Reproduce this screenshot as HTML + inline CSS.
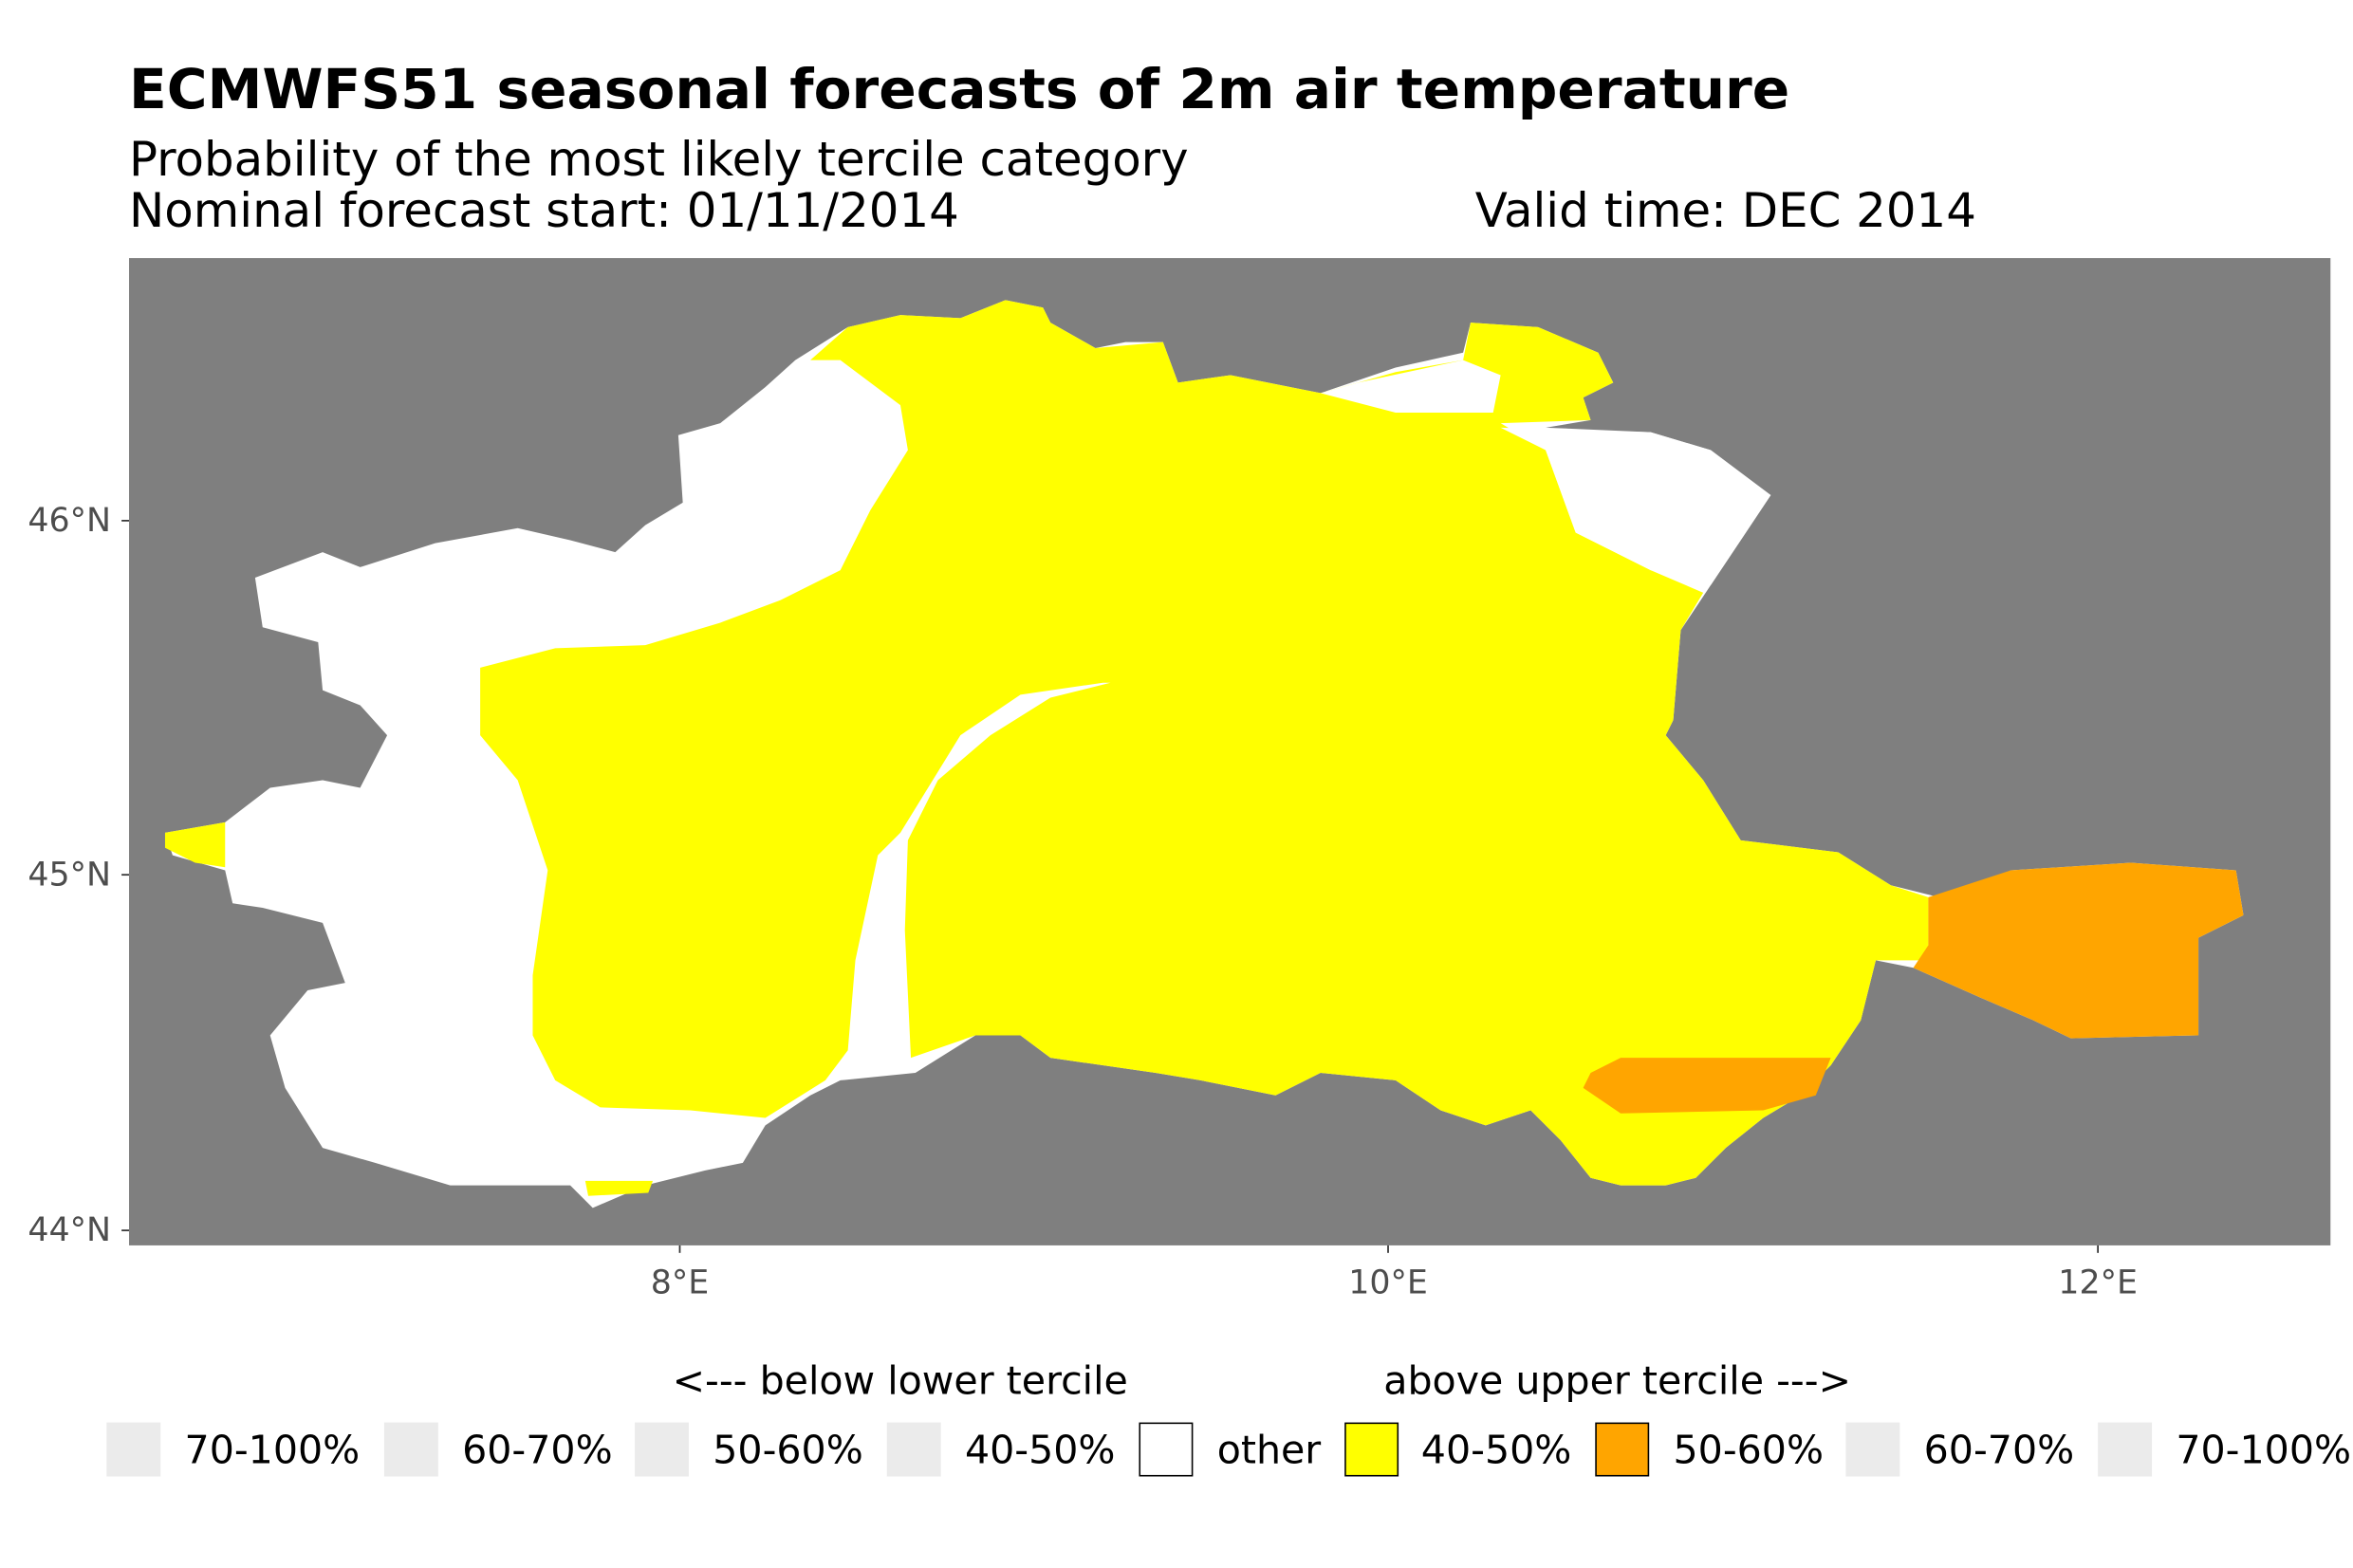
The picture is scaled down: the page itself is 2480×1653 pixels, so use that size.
<!DOCTYPE html>
<html><head><meta charset="utf-8"><style>
html,body{margin:0;padding:0;background:#fff;}
svg{display:block;}
text{font-family:"DejaVu Sans","Liberation Sans",sans-serif;}
</style></head><body>
<svg width="2480" height="1653" viewBox="0 0 1568 1045" preserveAspectRatio="none" xmlns="http://www.w3.org/2000/svg">
<rect width="1568" height="1045" fill="#fff"/>
<text x="86" y="72" font-size="36.8" font-weight="bold" fill="#000">ECMWFS51 seasonal forecasts of 2m air temperature</text>
<text x="86" y="117" font-size="31.5" fill="#000">Probability of the most likely tercile category</text>
<text x="86" y="151" font-size="31.5" fill="#000">Nominal forecast start: 01/11/2014</text>
<text x="983" y="151" font-size="31.5" fill="#000">Valid time: DEC 2014</text>
<rect x="86" y="172" width="1467" height="658" fill="#7f7f7f"/>
<polygon fill="#fff" points="110,555 150,548 180,525 215,520 240,525 258,490 240,470 215,460 212,428 175,418 170,385 215,368 240,378 290,362 345,352 380,360 410,368 430,350 455,335 452,290 480,282 510,258 530,240 565,218 600,210 640,212 670,200 695,205 700,215 730,232 750,228 775,228 785,255 820,250 860,258 880,262 930,245 975,235 980,215 1025,218 1065,235 1075,255 1055,265 1060,280 1030,285 1100,288 1140,300 1180,330 1160,360 1140,390 1120,420 1115,480 1110,490 1135,520 1160,560 1225,568 1260,590 1300,600 1340,580 1420,575 1490,580 1495,610 1465,625 1465,690 1380,692 1355,680 1320,665 1275,645 1250,640 1240,680 1220,710 1200,730 1175,745 1150,765 1130,785 1110,790 1080,790 1060,785 1040,760 1020,740 990,750 960,740 930,720 880,715 850,730 800,720 770,715 700,705 680,690 650,690 610,715 560,720 540,730 510,750 495,775 470,780 430,790 395,805 380,790 300,790 250,775 215,765 190,725 180,690 205,660 230,655 215,615 175,605 155,602 150,580 115,570"/>
<polygon fill="#ffff00" points="540,240 565,218 600,210 640,212 670,200 695,205 700,215 730,232 775,228 785,255 820,250 860,258 880,262 930,248 975,240 980,215 1025,218 1065,235 1075,255 1055,265 1060,280 1000,282 1030,300 1050,355 1100,380 1135,395 1120,420 1115,480 1110,490 1135,520 1160,560 1225,568 1260,590 1285,598 1285,640 1250,640 1240,680 1220,710 1200,730 1175,745 1150,765 1130,785 1110,790 1080,790 1060,785 1040,760 1020,740 990,750 960,740 930,720 880,715 850,730 800,720 770,715 700,705 680,690 650,690 607,705 603,620 605,560 625,520 660,490 700,465 740,455 735,455 680,463 640,490 600,555 585,570 570,640 565,700 550,720 510,745 460,740 400,738 370,720 355,690 355,650 365,580 345,520 320,490 320,445 370,432 430,430 480,415 520,400 560,380 580,340 605,300 600,270 560,240"/>
<polygon fill="#ffff00" points="110,555 150,548 150,578 130,575 110,565"/>
<polygon fill="#ffff00" points="390,787 435,787 432,795 392,797"/>
<polygon fill="#fff" points="1000,285 1100,288 1140,300 1180,330 1160,360 1140,390 1100,380 1050,355 1030,300"/>
<polygon fill="#fff" points="905,255 975,240 1000,250 995,275 930,275 880,262"/>
<polygon fill="#ffa500" points="1285,598 1340,580 1420,575 1490,580 1495,610 1465,625 1465,690 1380,692 1355,680 1320,665 1275,645 1285,630"/>
<polygon fill="#ffa500" points="1060,715 1080,705 1220,705 1210,730 1175,740 1080,742 1055,725"/>
<g stroke="#333" stroke-width="1.1">
<line x1="81" y1="347" x2="86" y2="347"/><line x1="81" y1="583" x2="86" y2="583"/><line x1="81" y1="820" x2="86" y2="820"/>
<line x1="453" y1="830" x2="453" y2="835"/><line x1="925" y1="830" x2="925" y2="835"/><line x1="1398" y1="830" x2="1398" y2="835"/>
</g>
<g font-size="22" fill="#4d4d4d">
<text x="74" y="354" text-anchor="end">46°N</text>
<text x="74" y="590" text-anchor="end">45°N</text>
<text x="74" y="827" text-anchor="end">44°N</text>
<text x="453" y="862" text-anchor="middle">8°E</text>
<text x="925" y="862" text-anchor="middle">10°E</text>
<text x="1398" y="862" text-anchor="middle">12°E</text>
</g>
<g font-size="26" fill="#000">
<text x="448" y="929">&lt;--- below lower tercile</text>
<text x="922" y="929">above upper tercile ---&gt;</text>
<rect x="71" y="948" width="36" height="36" fill="#ebebeb"/><text x="123" y="975">70-100%</text>
<rect x="256" y="948" width="36" height="36" fill="#ebebeb"/><text x="308" y="975">60-70%</text>
<rect x="423" y="948" width="36" height="36" fill="#ebebeb"/><text x="475" y="975">50-60%</text>
<rect x="591" y="948" width="36" height="36" fill="#ebebeb"/><text x="643" y="975">40-50%</text>
<rect x="759.5" y="948.5" width="35" height="35" fill="#fff" stroke="#000"/><text x="811" y="975">other</text>
<rect x="896.5" y="948.5" width="35" height="35" fill="#ffff00" stroke="#000"/><text x="947" y="975">40-50%</text>
<rect x="1063.5" y="948.5" width="35" height="35" fill="#ffa500" stroke="#000"/><text x="1115" y="975">50-60%</text>
<rect x="1230" y="948" width="36" height="36" fill="#ebebeb"/><text x="1282" y="975">60-70%</text>
<rect x="1398" y="948" width="36" height="36" fill="#ebebeb"/><text x="1450" y="975">70-100%</text>
</g>
</svg>
</body></html>
